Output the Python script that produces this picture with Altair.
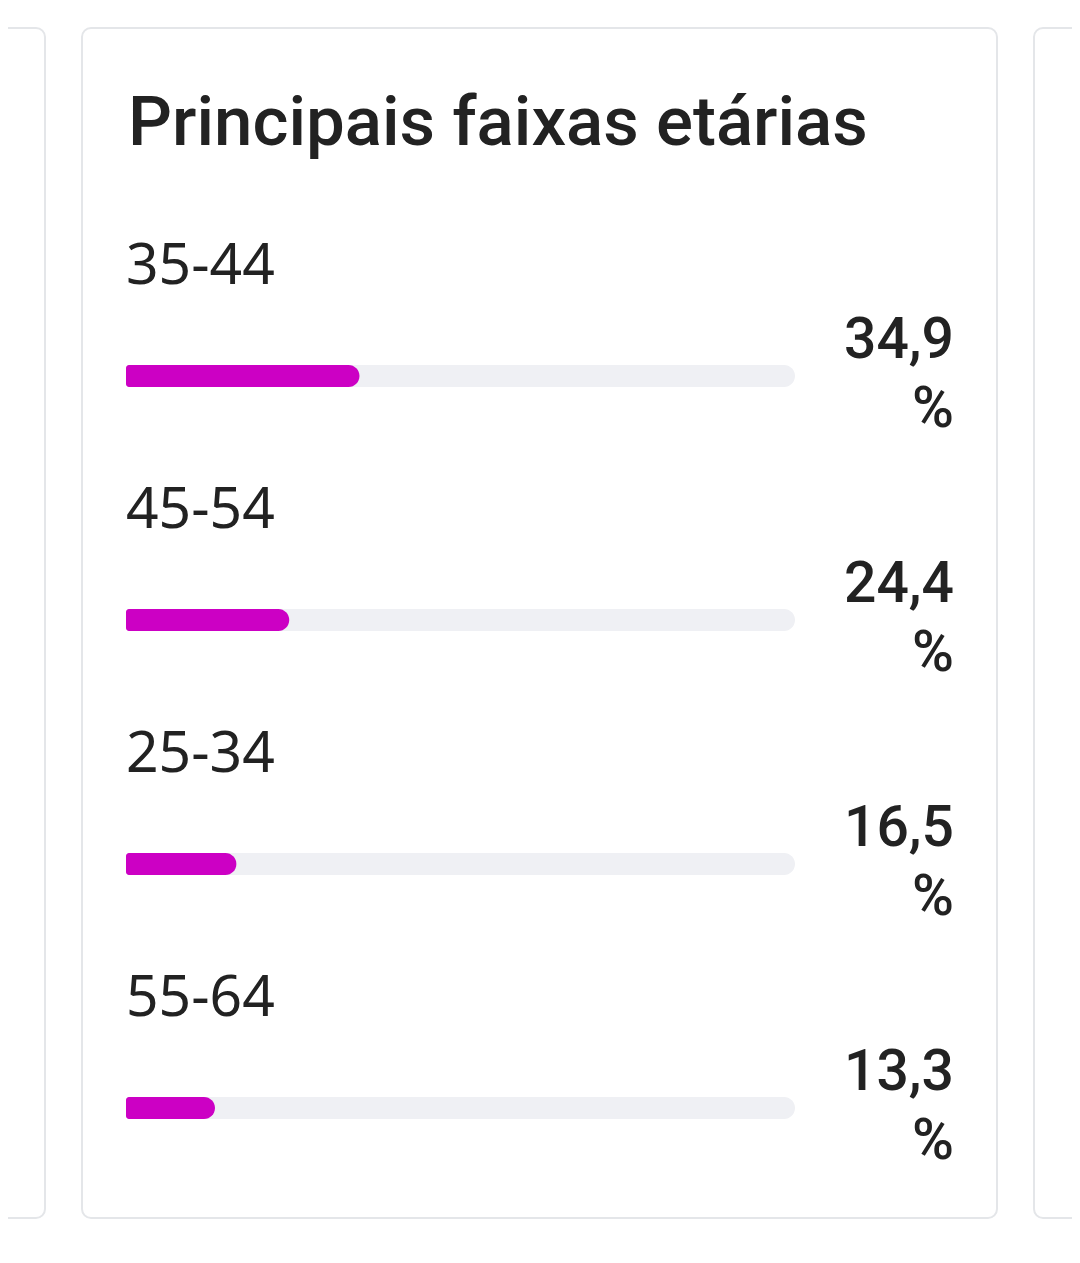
import altair as alt
import pandas as pd

title_text = "Principais faixas etárias"
ages = ["35-44", "45-54", "25-34", "55-64"]
values = [34.9, 24.4, 16.5, 13.3]
value_labels = ["34,9\n%", "24,4\n%", "16,5\n%", "13,3\n%"]

df = pd.DataFrame({
    "age": ages,
    "value": values,
    "label": value_labels,
    "rank": list(range(len(ages))),
})

MAGENTA = "#cc00c4"
TRACK = "#eff0f4"
BORDER = "#e4e6e9"
TEXT = "#222222"

xs = alt.Scale(domain=[0, 100], range=[118, 787], zero=False, nice=False, padding=0)
ys = alt.Scale(domain=[0, 3], range=[368, 1100], zero=False, nice=False, padding=0)

Y = alt.Y("rank:Q", scale=ys, axis=None)
X0 = alt.X("zero:Q", scale=xs, axis=None)

base = alt.Chart(df).transform_calculate(zero="0", full="100")

# page background and card outlines (decoration)
card_data = pd.DataFrame({"k": [0]})
page_bg = alt.Chart(card_data).mark_rect(fill="white", strokeWidth=0).encode(
    x=alt.value(-20), x2=alt.value(1090), y=alt.value(-20), y2=alt.value(1270))

def card(x1, x2):
    return alt.Chart(card_data).mark_rect(
        fill="white", stroke=BORDER, strokeWidth=2, cornerRadius=9).encode(
        x=alt.value(x1), x2=alt.value(x2), y=alt.value(20), y2=alt.value(1210))

cards = alt.layer(card(74, 989), card(-60, 37), card(1026, 1120))

title = alt.Chart(card_data).mark_text(
    text=title_text, font="Roboto", fontSize=69, fontWeight=500, color=TEXT,
    align="left", baseline="alphabetic").encode(x=alt.value(120), y=alt.value(137))

bar_kw = dict(orient="horizontal", size=22,
              cornerRadiusTopLeft=3, cornerRadiusBottomLeft=3,
              cornerRadiusTopRight=11, cornerRadiusBottomRight=11)

track = base.mark_bar(color=TRACK, **bar_kw).encode(x=X0, x2="full:Q", y=Y)
bars = base.mark_bar(color=MAGENTA, **bar_kw).encode(x=X0, x2="value:Q", y=Y)

age_text = base.mark_text(font="Noto Sans", fontSize=57, fontWeight=400, color=TEXT,
                          align="left", baseline="alphabetic", dy=-92).encode(
    x=X0, y=Y, text="age:N")

val_text = base.mark_text(font="Roboto", fontSize=57, fontWeight=500, color=TEXT,
                          align="right", baseline="alphabetic", dy=-18,
                          lineBreak="\n", lineHeight=69).encode(
    x=alt.value(946), y=Y, text="label:N")

chart = alt.layer(page_bg, cards, title, track, bars, age_text, val_text).properties(
    width=1064, height=1247,
    autosize=alt.AutoSizeParams(type="none"), padding=0,
).configure_view(strokeWidth=0, stroke="white").configure(
    background="white", style={"cell": {"stroke": "white", "strokeWidth": 0}})

chart.save("out.html", embed_options={"renderer": "svg", "actions": False})
